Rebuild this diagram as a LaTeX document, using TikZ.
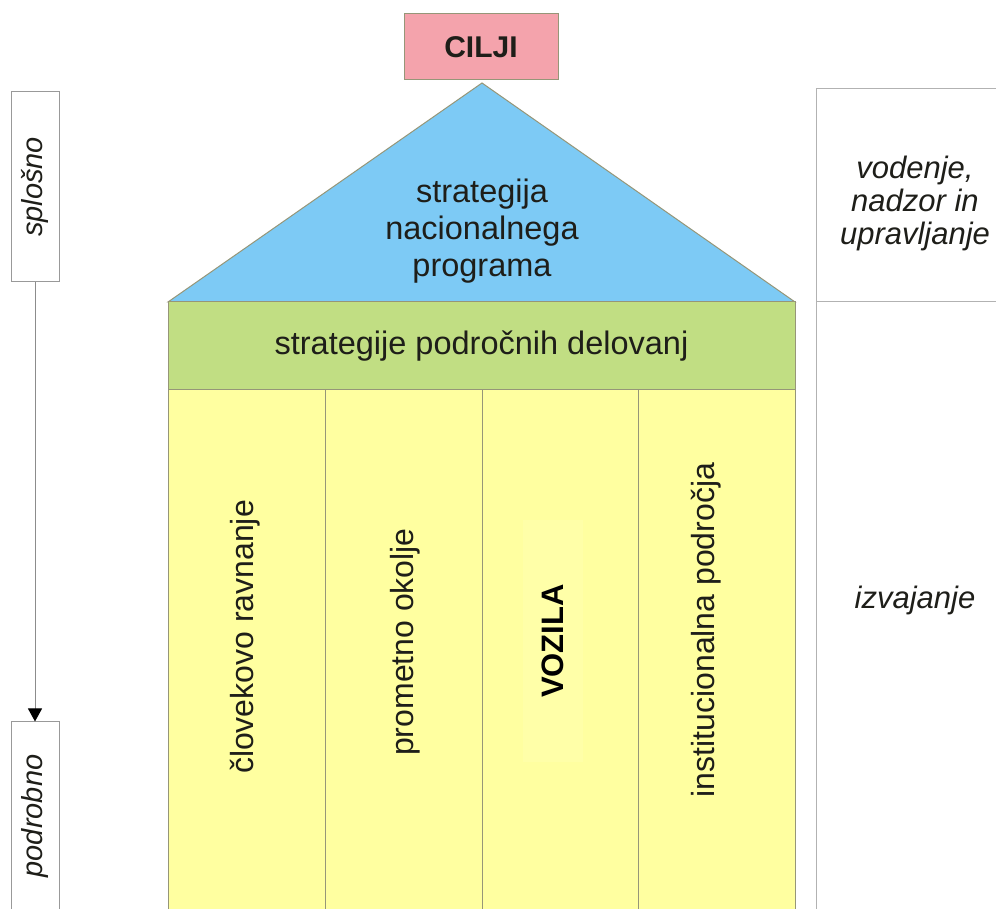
\documentclass[tikz,border=0pt]{standalone}
\usepackage{fontspec}
\setmainfont{Liberation Sans}
\usetikzlibrary{arrows.meta,positioning}
\definecolor{ciljipink}{RGB}{244,163,172}
\definecolor{roofblue}{RGB}{125,202,245}
\definecolor{beamgreen}{RGB}{193,222,131}
\definecolor{pillaryellow}{RGB}{255,255,160}
\definecolor{vozilayellow}{RGB}{255,255,168}
\definecolor{edgegray}{RGB}{150,150,120}
\definecolor{inkdark}{RGB}{30,30,25}
\tikzstyle{goal}=[rectangle,draw=edgegray,fill=ciljipink,line width=1pt,minimum width=154pt,minimum height=66pt,text=inkdark,font=\fontsize{30}{36}\selectfont\bfseries]
\tikzstyle{roofword}=[align=center,text=inkdark,font=\fontsize{32.5}{37}\selectfont]
\tikzstyle{beam}=[rectangle,draw=edgegray,fill=beamgreen,line width=1pt,minimum width=627pt,minimum height=88pt,text=inkdark,font=\fontsize{32.5}{37}\selectfont]
\tikzstyle{pillar}=[draw=edgegray,fill=pillaryellow,line width=1pt]
\tikzstyle{pillartext}=[rotate=90,text=inkdark,font=\fontsize{32}{37}\selectfont]
\tikzstyle{levelbox}=[rectangle,draw=black!40,fill=white,line width=1pt,inner sep=0pt]
\tikzstyle{leveltext}=[text=inkdark,font=\fontsize{29}{32}\selectfont\itshape]
\tikzstyle{sidebox}=[rectangle,draw=black!30,fill=white,line width=1pt,inner sep=0pt]
\tikzstyle{sidetext}=[align=center,text=inkdark,font=\fontsize{31}{33}\selectfont\itshape]

\begin{document}
\begin{tikzpicture}[x=1pt,y=1pt]
\useasboundingbox (0,0) rectangle (996,909);
\clip (0,0) rectangle (996,909);

%roof
    \coordinate (apex) at (482,826);
    \coordinate (eaveL) at (168,607);
    \coordinate (eaveR) at (795,607);
    \draw[edgegray,fill=roofblue,line width=1pt] (eaveL) -- (apex) -- (eaveR) -- cycle;
    \node[roofword] (roof) at (482,678) {strategija\\nacionalnega\\programa};
    \node[goal] (cilji) at (481,862) {CILJI};

%beam and pillars
    \node[beam] (beam) at (481.5,563) {strategije področnih delovanj};
    \foreach \xa/\xb in {168/325, 325/482, 482/638, 638/795}
        \draw[pillar] (\xa,-10) rectangle (\xb,519);

    \foreach \pos/\name/\label in {{(245,272)/clovek/človekovo ravnanje}, {(405,267)/okolje/prometno okolje}, {(706,279)/institucije/institucionalna področja}}
        \node[pillartext] (\name) at \pos {\label};
    \node[pillartext,fill=vozilayellow,minimum width=242pt,minimum height=60pt,font=\fontsize{31}{37}\selectfont\bfseries,text=black] (vozila) at (553,268) {VOZILA};

%levels on the left
    \node[levelbox,rotate=90,minimum width=190pt,minimum height=48pt] (splosno) at (35,722) {};
    \node[leveltext,rotate=90] (splosnotext) at (splosno.center) {splošno};
    \node[levelbox,rotate=90,minimum width=200pt,minimum height=48pt] (podrobno) at (35,87) {};
    \node[leveltext,rotate=90] (podrobnotext) at ([yshift=6pt]podrobno.center) {podrobno};
    \draw[black!45,line width=1pt,-{Triangle[length=13pt,width=14pt,black]}] (splosno.west) -- (podrobno.east);

%management and execution
    \node[sidebox,minimum width=198pt,minimum height=213pt] (vodenjebox) at (915,713.5) {};
    \node[sidebox,minimum width=198pt,minimum height=640pt] (izvajanjebox) at (915,287) {};
    \node[sidetext] (vodenje) at ([yshift=-8pt]vodenjebox.center) {vodenje,\\nadzor in\\upravljanje};
    \node[sidetext] (izvajanje) at (915,309) {izvajanje};

\end{tikzpicture}
\end{document}
